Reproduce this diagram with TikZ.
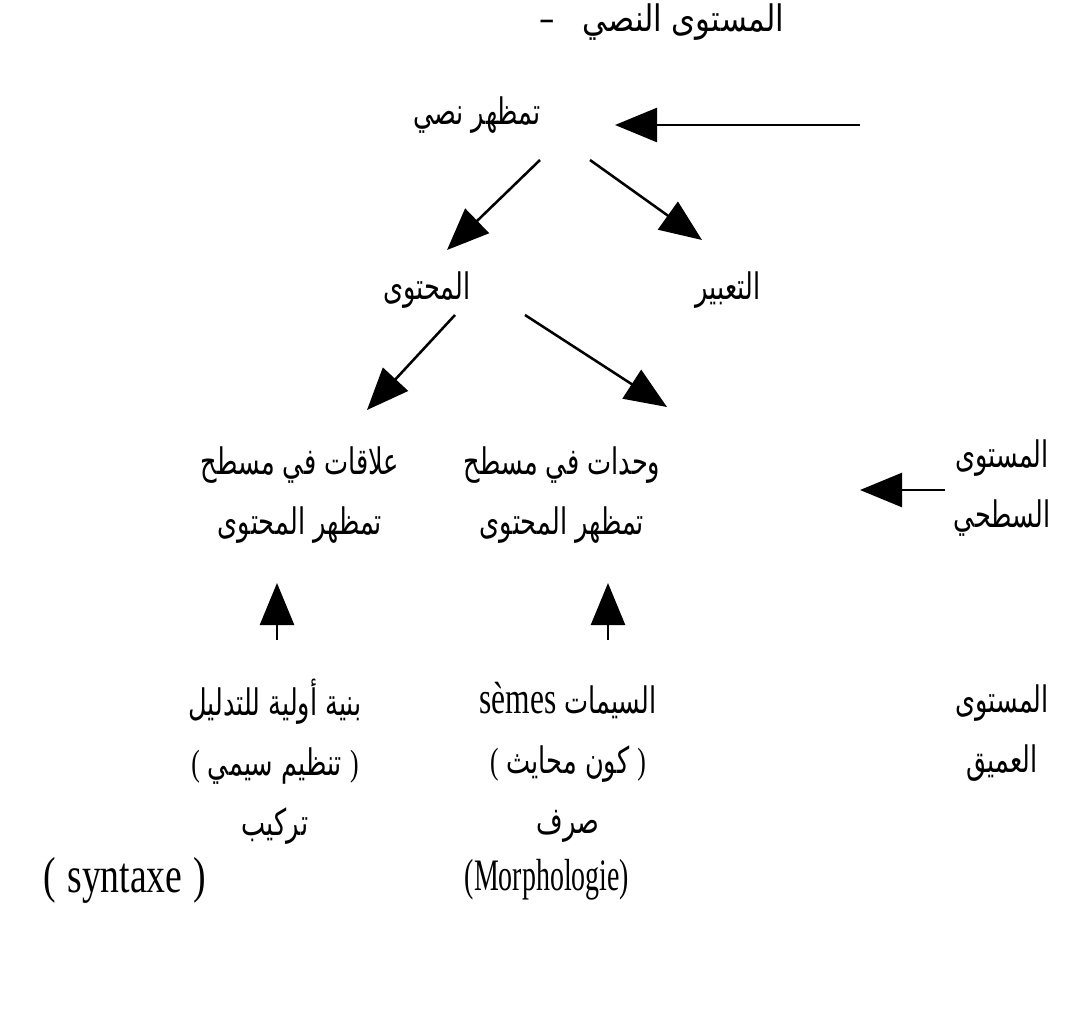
\documentclass[tikz,border=0pt]{standalone}
\usepackage{fontspec}
\setmainfont{Liberation Serif}
\newfontfamily\arabicfont[Script=Arabic]{DejaVu Sans}
\TeXXeTstate=1
\usetikzlibrary{arrows.meta}

\tikzset{
  ar/.style={font=\arabicfont\fontsize{26}{42.7}\selectfont, inner sep=0pt, align=center, xscale=.7, transform shape},
  lat/.style={font=\fontsize{32}{36}\selectfont, inner sep=0pt, xscale=.62, transform shape},
  arr/.style={-{Triangle[length=1.05cm,width=0.85cm]}, line width=1.8pt},
}

\begin{document}
\begin{tikzpicture}[x=0.025cm, y=-0.025cm]
	\useasboundingbox (0,0) rectangle (1078,1033);
	% text level
	\node[ar, xscale=1.2] (head) at (662,22) {–\hspace{0.9em}\beginR المستوى النصي\endR};
	\node[ar] (tn) at (477,115) {\beginR تمظهر نصي\endR};
	\node[ar] (content) at (427,290) {\beginR المحتوى\endR};
	\node[ar] (expr) at (728,290) {\beginR التعبير\endR};
	% surface level
	\node[ar] (rel) at (300,495) {\beginR علاقات في مسطح\endR\\\beginR تمظهر المحتوى\endR};
	\node[ar] (units) at (562,495) {\beginR وحدات في مسطح\endR\\\beginR تمظهر المحتوى\endR};
	\node[ar] (surf) at (1002,488) {\beginR المستوى\endR\\\beginR السطحي\endR};
	% deep level
	\node[ar] (base) at (275,762) {\beginR بنية أولية للتدليل\endR\\{\rmfamily (}\ \beginR تنظيم سيمي\endR\ {\rmfamily )}\\\beginR تركيب\endR};
	\node[ar] (sem) at (568,762) {\beginR السيمات \beginL{\rmfamily\fontsize{32}{36}\selectfont sèmes}\endL\endR\\{\rmfamily (}\ \beginR كون محايث\endR\ {\rmfamily )}\\\beginR صرف\endR};
	\node[ar] (deep) at (1002,733) {\beginR المستوى\endR\\\beginR العميق\endR};
	\node[lat, font=\fontsize{36}{40}\selectfont, xscale=1.2] (syn) at (125,880) {(\hspace{0.3em}syntaxe\hspace{0.3em})};
	\node[lat] (morph) at (547,880) {(Morphologie)};
	% arrows
	\coordinate (topTail) at (860,125);
	\draw[arr] (topTail) -- ([shift={(138,10)}]tn.center);
	\draw[arr] ([shift={(63,45)}]tn.center) -- ([shift={(20,-40)}]content.center);
	\draw[arr] ([shift={(113,45)}]tn.center) -- ([shift={(-26,-50)}]expr.center);
	\draw[arr] ([shift={(28,25)}]content.center) -- ([shift={(67,-85)}]rel.center);
	\draw[arr] ([shift={(98,25)}]content.center) -- ([shift={(105,-88)}]units.center);
	\draw[arr] ([shift={(-57,2)}]surf.center) -- ([shift={(-142,2)}]surf.center);
	\draw[arr] ([shift={(2,-122)}]base.center) -- ([shift={(-23,88)}]rel.center);
	\draw[arr] ([shift={(40,-122)}]sem.center) -- ([shift={(46,88)}]units.center);
\end{tikzpicture}
\end{document}
